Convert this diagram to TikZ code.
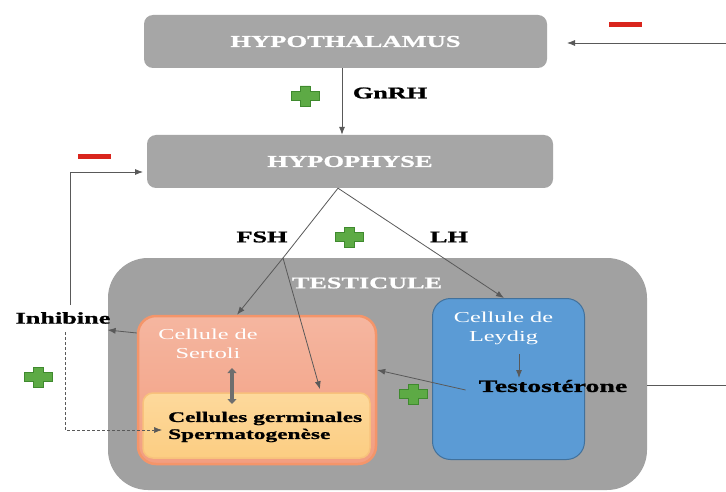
\documentclass[tikz,border=0pt]{standalone}
\usepackage{fontspec}
\setmainfont{Liberation Serif}[FakeStretch=1.6, BoldFeatures={FakeBold=1.2}]
\usetikzlibrary{arrows.meta,calc}
\definecolor{boxgray}{HTML}{A6A6A6}
\definecolor{testigray}{HTML}{A1A1A1}
\definecolor{arrowgray}{HTML}{595959}
\definecolor{dblgray}{HTML}{6E6E6E}
\definecolor{serttop}{HTML}{F5B6A0}
\definecolor{sertbot}{HTML}{F29E80}
\definecolor{sertdraw}{HTML}{F4956A}
\definecolor{germtop}{HTML}{FDD99C}
\definecolor{germbot}{HTML}{FCCD82}
\definecolor{germdraw}{HTML}{F8C27C}
\definecolor{leyfill}{HTML}{5B9BD5}
\definecolor{leydraw}{HTML}{41719C}
\definecolor{pgreen}{HTML}{5DAA45}
\definecolor{pgreendk}{HTML}{3F8A2E}
\definecolor{mred}{HTML}{D9251D}
\tikzset{
  plussign/.pic={\filldraw[fill=pgreen,draw=pgreendk,line width=0.5pt]
    (-5,-10) -- (5,-10) -- (5,-4.5) -- (14,-4.5) -- (14,4.5) -- (5,4.5) -- (5,10)
    -- (-5,10) -- (-5,4.5) -- (-14,4.5) -- (-14,-4.5) -- (-5,-4.5) -- cycle;}
}
\begin{document}
\begin{tikzpicture}[x=1pt,y=-1pt,
  organ/.style={fill=boxgray, rounded corners=9pt, text=white, inner sep=0pt,
    font=\bfseries\fontsize{16.6}{18}\selectfont},
  lbl/.style={font=\bfseries\fontsize{16.4}{18}\selectfont, text=black, inner sep=0pt},
  cellname/.style={font=\fontsize{15.2}{19}\selectfont, text=white, align=center, inner sep=0pt},
  arr/.style={draw=arrowgray, line width=0.8pt, -{Latex[length=8pt,width=6pt]}},
  ln/.style={draw=arrowgray, line width=0.8pt},
  dbl/.style={draw=dblgray, line width=3.5pt, {Triangle[length=5pt,width=9pt]}-{Triangle[length=5pt,width=9pt]}},
  minus/.style={fill=mred, minimum width=33pt, minimum height=5pt, inner sep=0pt}
]
\useasboundingbox (0,0) rectangle (726,492);
\fill[white] (0,0) rectangle (726,492);

% main organs
\node[organ, minimum width=403pt, minimum height=53pt] (hyp) at (345.5,41.5) {HYPOTHALAMUS};
\node[organ, minimum width=406pt, minimum height=53pt] (pit) at (350,161.5) {HYPOPHYSE};
\node[fill=testigray, rounded corners=40pt, minimum width=539pt, minimum height=232pt] (testi) at (377.5,374) {};
\node[lbl, text=white] (testilbl) at (367,283) {TESTICULE};

% Sertoli
\node[draw=sertdraw, line width=2.5pt, top color=serttop, bottom color=sertbot,
  rounded corners=18pt, minimum width=238pt, minimum height=148pt] (sert) at (257,390) {};
\node[cellname] (sertlbl) at (208,344) {Cellule de\\Sertoli};
\node[draw=germdraw, line width=1.5pt, top color=germtop, bottom color=germbot,
  rounded corners=10pt, minimum width=227pt, minimum height=65pt] (germ) at (256.5,425.5) {};
\node[anchor=west, align=left, inner sep=0pt, font=\bfseries\fontsize{14.6}{17}\selectfont] (germlbl) at (168,427) {Cellules germinales\\Spermatogenèse};

% Leydig
\node[fill=leyfill, draw=leydraw, line width=1pt, rounded corners=18pt,
  minimum width=152pt, minimum height=161pt] (ley) at (508.5,379) {};
\node[cellname] (leylbl) at (503.5,328) {Cellule de\\Leydig};
\node[lbl, font=\bfseries\fontsize{17.4}{19}\selectfont] (testo) at (553,386) {Testostérone};

% labels
\node[lbl] (gnrh) at (390,93) {GnRH};
\node[lbl] (fsh) at (262,237) {FSH};
\node[lbl] (lh) at (449,237) {LH};
\node[lbl] (inhib) at (63,318) {Inhibine};

% signs
\node[minus] (m1) at (625.5,25) {};
\node[minus] (m2) at (94.5,157) {};
\pic (p1) at (305,96) {plussign};
\pic (p2) at (349,237) {plussign};
\pic (p3) at (38,377) {plussign};
\pic (p4) at (413,394) {plussign};

% coordinates
\coordinate (apex) at ([xshift=-12pt]pit.south);
\coordinate (split) at (283,258);
\coordinate (germin) at ([xshift=63.5pt,yshift=3pt]germ.north);
\coordinate (lyA) at (519,354);
\coordinate (lyB) at (519,378);
\coordinate (tsA) at ([xshift=-13pt,yshift=-4pt]testo.west);
\coordinate (inA) at ([xshift=-3pt,yshift=-12pt]inhib.east);
\coordinate (lfb) at (143,172);
\coordinate (lfs) at (70,305);
\coordinate (dstart) at (65,332);
\coordinate (dend) at (162,430);
\coordinate (fbR) at (728,385);
\coordinate (fbT) at (728,43);
\coordinate (fbEnd) at (567,43);

% connectors
\draw[arr] ([xshift=-3.5pt]hyp.south) -- ([xshift=-3.5pt]hyp.south |- pit.north);
\draw[ln] (apex) -- (split);
\draw[arr] (split) -- ([xshift=-20pt]sert.north);
\draw[arr] (split) -- (germin);
\draw[arr] (apex) -- ([xshift=-4.5pt]ley.north);
\draw[arr] (lyA) -- (lyB);
\draw[arr] (tsA) -- ([yshift=20pt]sert.east);
\draw[arr] ([yshift=57pt]sert.west) -- (inA);
\draw[arr] (lfs) -- (lfs |- lfb) -- (lfb);
\draw[arr, line width=0.6pt, dash pattern=on 3pt off 2pt] (dstart) -- (dstart |- dend) -- (dend);
\draw[arr] (testi.east |- fbR) -- (fbR) -- (fbT) -- (fbEnd);
\draw[dbl] (232,368) -- (232,404);
\end{tikzpicture}
\end{document}
